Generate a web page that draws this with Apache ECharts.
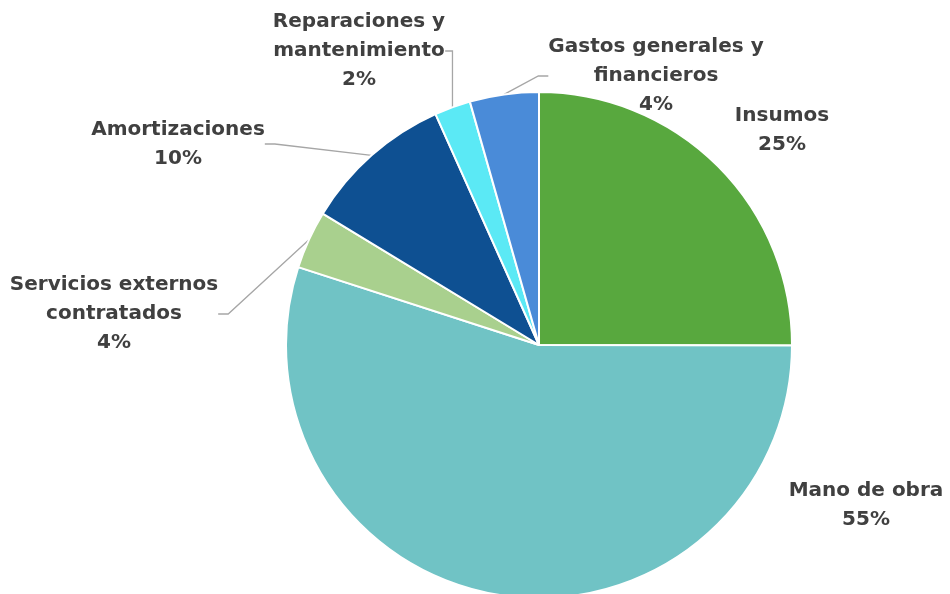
<!DOCTYPE html>
<html><head><meta charset="utf-8">
<script src="https://cdn.jsdelivr.net/npm/echarts@6/dist/echarts.min.js"></script>
<style>html,body{margin:0;padding:0;background:#fff}#c{width:950px;height:594px}</style>
</head><body><div id="c"></div>
<script>
const categories = ['Insumos','Mano de obra','Servicios externos\ncontratados','Amortizaciones','Reparaciones y\nmantenimiento','Gastos generales y\nfinancieros'];
const values = [25.0, 54.9, 3.7, 9.6, 2.3, 4.4];
const colors = ['#58a83e','#70c3c5','#a9d08e','#0e5092','#5be9f5','#4a8bd8'];
const showLine = [false, false, true, true, true, true];
// label centre positions (px)
const labelPos = [[782,130],[866,505],[114,314],[178,144],[359,51],[656,76]];

const chart = echarts.init(document.getElementById('c'));
chart.setOption({
  animation:false,
  series:[{
    type:'pie',
    center:[539,345],
    radius:[0,253],
    startAngle:90,
    percentPrecision:0,
    data: categories.map((n,i)=>({name:n, value:values[i], itemStyle:{color:colors[i]}, labelLine:{show:showLine[i]}})),
    itemStyle:{borderColor:'#fff', borderWidth:2},
    label:{
      show:true,
      formatter:'{b}\n{d}%',
      color:'#404040',
      fontFamily:'DejaVu Sans',
      fontWeight:'bold',
      fontSize:20,
      lineHeight:29,
      align:'center'
    },
    labelLine:{lineStyle:{color:'#a6a6a6', width:1.3}, length:10, length2:10},
    labelLayout:function(p){
      const pos = labelPos[p.dataIndex];
      return {x:pos[0], y:pos[1], align:'center', verticalAlign:'middle'};
    }
  }]
});
</script></body></html>
